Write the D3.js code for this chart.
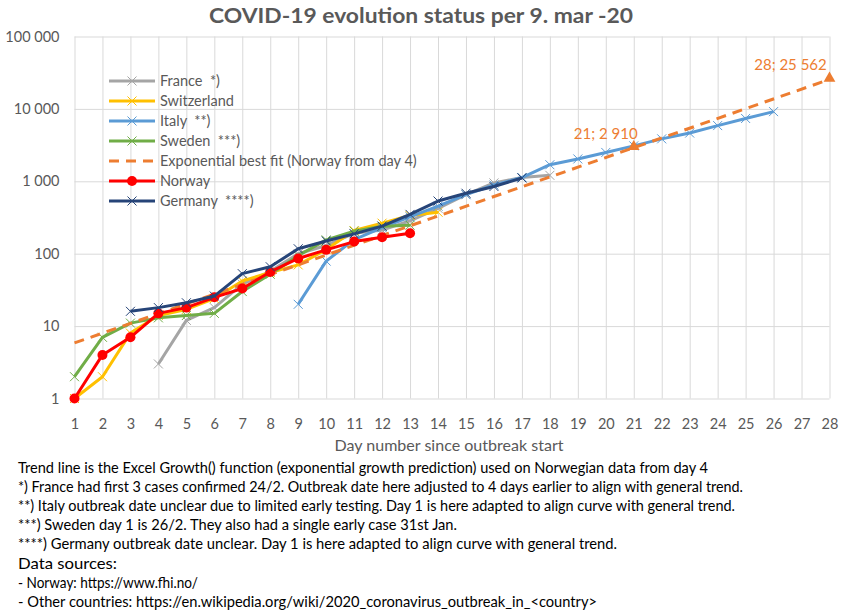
<!DOCTYPE html>
<html>
<head>
<meta charset="utf-8">
<script src="https://cdn.jsdelivr.net/npm/d3@7.9.0/dist/d3.min.js"></script>
<style>
  body { margin: 0; background: #fff; }
  svg { display: block; font-family: Lato, "Open Sans", sans-serif; }
</style>
</head>
<body>
<svg id="chart" width="844" height="615"></svg>
<script>
// day numbers and case counts
const days = d3.range(1, 29);
const yTicks = [1, 10, 100, 1000, 10000, 100000];

const franceStart = 4;
const france = [3, 12, 18, 38, 57, 100, 130, 191, 212, 285, 423, 653, 949, 1126, 1209];
const switzerlandStart = 1;
const switzerland = [1, 2, 8, 14, 17, 24, 42, 55, 70, 114, 209, 264, 337, 374];
const italyStart = 9;
const italy = [20, 79, 157, 229, 322, 453, 655, 888, 1128, 1694, 2036, 2502, 3089, 3858, 4636, 5883, 7375, 9172];
const swedenStart = 1;
const sweden = [2, 7, 11, 13, 14, 15, 30, 52, 94, 155, 205, 240, 248];
const norwayStart = 1;
const norway = [1, 4, 7, 15, 18, 25, 33, 56, 86, 113, 147, 169, 192];
const germanyStart = 3;
const germany = [16, 18, 21, 26, 53, 66, 117, 150, 188, 240, 349, 534, 684, 847, 1112];

// exponential fit, straight on the log axis
const trendDays = [1, 21, 28];
const trendValues = [5.86, 2910, 25562];
const labelDays = [21, 28];
const labelValues = [2910, 25562];
const labelShift = [-28, -39];

const notes = [
  'Trend line is the Excel Growth() function (exponential growth prediction) used on Norwegian data from day 4',
  '*) France had first 3 cases confirmed 24/2. Outbreak date here adjusted to 4 days earlier to align with general trend.',
  '**) Italy outbreak date unclear due to limited early testing. Day 1 is here adapted to align curve with general trend.',
  '***) Sweden day 1 is 26/2. They also had a single early case 31st Jan.',
  '****) Germany outbreak date unclear. Day 1 is here adapted to align curve with general trend.',
  'Data sources:',
  '- Norway: https://www.fhi.no/',
  '- Other countries: https://en.wikipedia.org/wiki/2020_coronavirus_outbreak_in_<country>'
];
const noteWidths = [690, 725, 717, 439, 599, 99, 180, 579];

const toPoints = (start, values) => values.map((v, i) => ({ day: start + i, value: v }));

const series = [
  { name: 'France  *)', color: '#A5A5A5', points: toPoints(franceStart, france), marker: 'x' },
  { name: 'Switzerland', color: '#FFC000', points: toPoints(switzerlandStart, switzerland), marker: 'x' },
  { name: 'Italy  **)', color: '#5B9BD5', points: toPoints(italyStart, italy), marker: 'x' },
  { name: 'Sweden  ***)', color: '#70AD47', points: toPoints(swedenStart, sweden), marker: 'x' },
  { name: 'Exponential best fit (Norway from day 4)', color: '#ED7D31', points: trendDays.map((d, i) => ({ day: d, value: trendValues[i] })), marker: 'dash' },
  { name: 'Norway', color: '#FF0000', points: toPoints(norwayStart, norway), marker: 'circle' },
  { name: 'Germany  ****)', color: '#264478', points: toPoints(germanyStart, germany), marker: 'x' }
];

const svg = d3.select('#chart');
const grey = '#595959';

const x = d3.scaleLinear().domain([1, 28]).range([74.5, 829.5]);
const y = d3.scaleLog().domain([1, 100000]).range([398.5, 36.5]);
const fmt = (v) => d3.format(',')(v).replace(/,/g, ' ');

// grid
svg.append('g')
  .attr('transform', 'translate(0,398.5)')
  .call(d3.axisBottom(x).tickValues(days).tickSize(-362).tickFormat(''))
  .call((g) => g.select('.domain').remove())
  .call((g) => g.selectAll('line').attr('stroke', '#D9D9D9'));

svg.append('g')
  .attr('transform', 'translate(74.5,0)')
  .call(d3.axisLeft(y).tickValues(yTicks).tickSize(-755).tickFormat(''))
  .call((g) => g.select('.domain').remove())
  .call((g) => g.selectAll('line').attr('stroke', '#D9D9D9'));

// tick labels
svg.append('g')
  .attr('transform', 'translate(0,398.5)')
  .call(d3.axisBottom(x).tickValues(days).tickSize(0).tickPadding(20).tickFormat(d3.format('d')))
  .call((g) => g.select('.domain').remove())
  .call((g) => g.selectAll('text').attr('fill', grey).style('font-size', '14.5px').style('font-family', 'Lato, sans-serif'));

svg.append('g')
  .attr('transform', 'translate(74.5,0)')
  .call(d3.axisLeft(y).tickValues(yTicks).tickSize(0).tickPadding(15).tickFormat(fmt))
  .call((g) => g.select('.domain').remove())
  .call((g) => g.selectAll('text').attr('fill', grey).style('font-size', '14.5px').style('font-family', 'Lato, sans-serif'));

// title and axis title
svg.append('text')
  .attr('x', 421).attr('y', 23)
  .attr('text-anchor', 'middle')
  .attr('fill', grey)
  .style('font-size', '21px').style('font-weight', 'bold')
  .attr('textLength', 424).attr('lengthAdjust', 'spacingAndGlyphs')
  .text('COVID-19 evolution status per 9. mar -20');

svg.append('text')
  .attr('x', 449).attr('y', 451)
  .attr('text-anchor', 'middle')
  .attr('fill', grey)
  .style('font-size', '16px')
  .attr('textLength', 229).attr('lengthAdjust', 'spacingAndGlyphs')
  .text('Day number since outbreak start');

// lines and markers
const line = d3.line().x((d) => x(d.day)).y((d) => y(d.value));

function drawMarker(g, s, cx, cy) {
  if (s.marker === 'x') {
    const r = 4.5;
    g.append('path')
      .attr('d', `M${cx - r},${cy - r}L${cx + r},${cy + r}M${cx - r},${cy + r}L${cx + r},${cy - r}`)
      .attr('stroke', s.color).attr('stroke-width', 1).attr('fill', 'none');
  } else if (s.marker === 'circle') {
    g.append('circle').attr('cx', cx).attr('cy', cy).attr('r', 5).attr('fill', s.color);
  }
}

series.forEach((s) => {
  const g = svg.append('g');
  g.append('path')
    .attr('d', line(s.points))
    .attr('fill', 'none')
    .attr('stroke', s.color)
    .attr('stroke-width', 3)
    .attr('stroke-linejoin', 'round')
    .attr('stroke-dasharray', s.marker === 'dash' ? '10,7' : null);

  if (s.marker === 'dash') {
    labelDays.forEach((d, i) => {
      const cx = x(d), cy = y(labelValues[i]);
      g.append('path')
        .attr('d', d3.symbol(d3.symbolTriangle, 60)())
        .attr('transform', `translate(${cx},${cy - 1})`)
        .attr('fill', s.color);
      g.append('text')
        .attr('x', cx + labelShift[i]).attr('y', cy - 9)
        .attr('text-anchor', 'middle')
        .attr('fill', s.color)
        .style('font-size', '15px')
        .text(`${d}; ${fmt(labelValues[i])}`);
    });
  } else {
    s.points.forEach((p) => drawMarker(g, s, x(p.day), y(p.value)));
  }
});

// legend
const legend = svg.append('g');
series.forEach((s, i) => {
  const ly = 81 + i * 20;
  legend.append('line')
    .attr('x1', 109).attr('x2', 155).attr('y1', ly).attr('y2', ly)
    .attr('stroke', s.color).attr('stroke-width', 3)
    .attr('stroke-dasharray', s.marker === 'dash' ? '10,7' : null);
  drawMarker(legend, s, 132, ly);
  legend.append('text')
    .attr('x', 160).attr('y', ly + 5)
    .attr('fill', grey)
    .style('font-size', '14.5px')
    .style('white-space', 'pre')
    .text(s.name);
});

// footnotes
svg.append('g').selectAll('text')
  .data(notes)
  .join('text')
  .attr('x', 18)
  .attr('y', (d, i) => 473 + i * 19.1)
  .attr('fill', '#000')
  .style('font-size', '15px')
  .attr('textLength', (d, i) => noteWidths[i])
  .attr('lengthAdjust', 'spacingAndGlyphs')
  .text((d) => d);
</script>
</body>
</html>
